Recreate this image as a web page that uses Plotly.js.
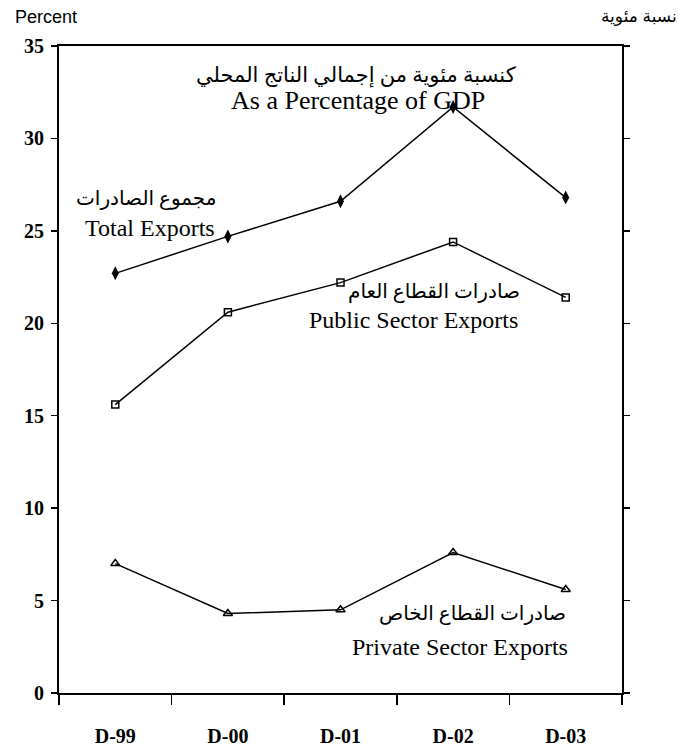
<!DOCTYPE html>
<html>
<head>
<meta charset="utf-8">
<script src="https://cdn.plot.ly/plotly-3.0.1.min.js"></script>
<style>html,body{margin:0;padding:0;background:#fff;}#chart{width:684px;height:753px;}</style>
</head>
<body>
<div id="chart"></div>
<script>
const categories = ["D-99", "D-00", "D-01", "D-02", "D-03"];
const totalExports = [22.7, 24.7, 26.6, 31.7, 26.8];
const publicExports = [15.6, 20.6, 22.2, 24.4, 21.4];
const privateExports = [7.0, 4.3, 4.5, 7.6, 5.6];
const yTicks = [0, 5, 10, 15, 20, 25, 30, 35];

const serif = "Liberation Serif, Times New Roman, DejaVu Serif, serif";
const arabicFont = "Liberation Serif, DejaVu Sans, serif";
const lineStyle = {color: "#000", width: 1.5};

const traces = [
  {x: categories, y: totalExports, type: "scatter", mode: "lines+markers",
   line: lineStyle, marker: {symbol: "diamond-tall", size: 10, color: "#000"}, name: "Total Exports"},
  {x: categories, y: publicExports, type: "scatter", mode: "lines+markers",
   line: lineStyle, marker: {symbol: "square-open", size: 7, color: "#000", line: {width: 1.5, color: "#000"}}, name: "Public Sector Exports"},
  {x: categories, y: privateExports, type: "scatter", mode: "lines+markers",
   line: lineStyle, marker: {symbol: "triangle-up-open", size: 8, color: "#000", line: {width: 1.5, color: "#000"}}, name: "Private Sector Exports"}
];

const tickFont = {family: serif, size: 20, color: "#000", weight: "bold"};

const layout = {
  width: 684, height: 753,
  margin: {l: 59, r: 62, t: 46, b: 60},
  paper_bgcolor: "#fff", plot_bgcolor: "#fff",
  showlegend: false,
  xaxis: {
    type: "category", range: [-0.5, 4.5], tickson: "boundaries", ticks: "outside", ticklen: 10, tickwidth: 1.5, tickcolor: "#000",
    showline: true, linecolor: "#000", linewidth: 2, mirror: true, showgrid: false, zeroline: false,
    tickfont: tickFont, ticklabelstandoff: 24, fixedrange: true
  },
  yaxis: {
    range: [0, 35], tickvals: yTicks, ticks: "outside", ticklen: 6, tickwidth: 1.5, tickcolor: "#000",
    showline: true, linecolor: "#000", linewidth: 2, mirror: "ticks", showgrid: false, zeroline: false,
    tickfont: tickFont, ticklabelstandoff: 3
  },
  yaxis2: {
    range: [0, 35], tickvals: yTicks, overlaying: "y", side: "right", ticks: "inside", ticklen: 6, tickwidth: 1.5, tickcolor: "#000",
    showline: false, showgrid: false, zeroline: false, tickfont: tickFont, ticklabelstandoff: 4
  },
  annotations: [
    {text: "Percent", xref: "paper", yref: "paper", x: -0.082, y: 1.045, xanchor: "left", yanchor: "middle",
     showarrow: false, font: {family: "Liberation Sans, Arial, sans-serif", size: 18, color: "#000"}},
    {text: "نسبة مئوية", xref: "paper", yref: "paper", x: 1.101, y: 1.045, xanchor: "right", yanchor: "middle",
     showarrow: false, font: {family: "Liberation Sans, DejaVu Sans, sans-serif", size: 17, color: "#000"}},
    {text: "كنسبة مئوية من إجمالي الناتج المحلي", xref: "paper", yref: "paper", x: 0.527, y: 0.955, xanchor: "center", yanchor: "middle",
     showarrow: false, font: {family: arabicFont, size: 21, color: "#000"}},
    {text: "As a Percentage of GDP", xref: "paper", yref: "paper", x: 0.531, y: 0.9165, xanchor: "center", yanchor: "middle",
     showarrow: false, font: {family: serif, size: 26, color: "#000"}},
    {text: "مجموع الصادرات", xref: "paper", yref: "paper", x: 0.284, y: 0.765, xanchor: "right", yanchor: "middle",
     showarrow: false, font: {family: arabicFont, size: 20, color: "#000"}},
    {text: "Total Exports", xref: "paper", yref: "paper", x: 0.0426, y: 0.7187, xanchor: "left", yanchor: "middle",
     showarrow: false, font: {family: serif, size: 24, color: "#000"}},
    {text: "صادرات القطاع العام", xref: "paper", yref: "paper", x: 0.822, y: 0.6198, xanchor: "right", yanchor: "middle",
     showarrow: false, font: {family: arabicFont, size: 20, color: "#000"}},
    {text: "Public Sector Exports", xref: "paper", yref: "paper", x: 0.819, y: 0.5765, xanchor: "right", yanchor: "middle",
     showarrow: false, font: {family: serif, size: 24, color: "#000"}},
    {text: "صادرات القطاع الخاص", xref: "paper", yref: "paper", x: 0.904, y: 0.1236, xanchor: "right", yanchor: "middle",
     showarrow: false, font: {family: arabicFont, size: 20, color: "#000"}},
    {text: "Private Sector Exports", xref: "paper", yref: "paper", x: 0.9076, y: 0.0711, xanchor: "right", yanchor: "middle",
     showarrow: false, font: {family: serif, size: 24, color: "#000"}}
  ]
};

Plotly.newPlot("chart", traces, layout, {staticPlot: true, displayModeBar: false});
</script>
</body>
</html>
